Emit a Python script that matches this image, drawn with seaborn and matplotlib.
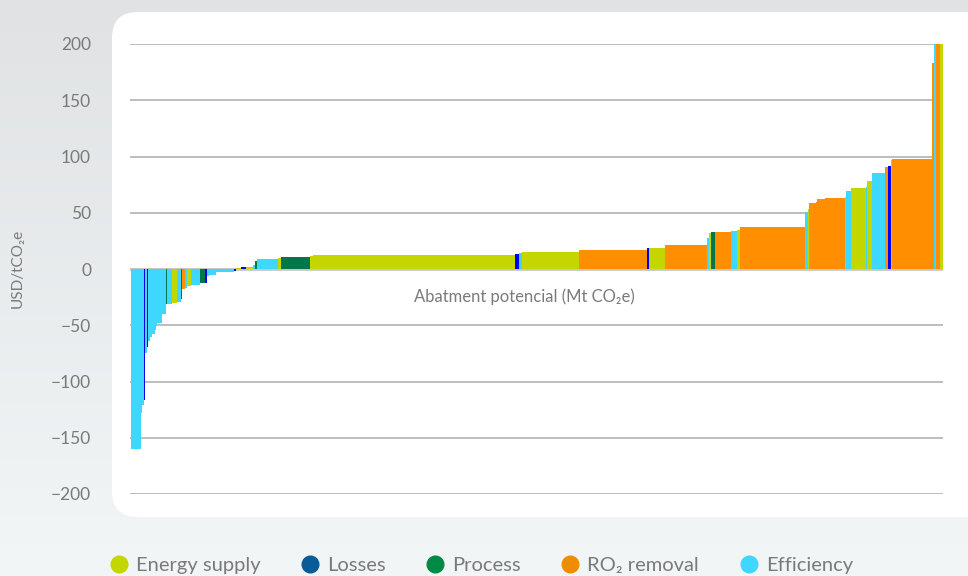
import numpy as np
import pandas as pd
import matplotlib
matplotlib.use("Agg")
import matplotlib.pyplot as plt
import seaborn as sns
from matplotlib.patches import FancyBboxPatch
from matplotlib.lines import Line2D

# ---------------- data ----------------
categories = ["Energy supply", "Losses", "Process", "RO\u2082 removal", "Efficiency"]

# width of each measure (abatement potential, relative units)
widths = [10, 1, 2, 0.7, 2.3, 1, 2, 2, 3, 1, 1, 5, 4, 1, 5, 4.3, 4.7, 1, 2.7, 2.3,
          3.7, 9.3, 5, 1.7, 1.6, 7.4, 17.6, 2.4, 5.3, 4.7, 7.3, 2, 2, 21, 2.7, 29.3,
          3, 202, 4, 3.3, 56.7, 68, 2, 16, 42, 2, 2, 4, 16, 6, 3, 65, 3, 1, 7, 1,
          8, 20, 1, 5, 15, 1, 5, 13, 3, 3, 1, 40, 2, 2, 4, 3]
# cost of each measure (USD/tCO2e)
costs = [-160, -128, -121, -116, -75, -69, -64, -60, -58, -54, -51, -48, -40, -31, -31,
         -30, -29, -27, -18, -17, -15, -14, -12, -12, -6, -5, -3, -2, 0.6, 1.5, 1.5,
         3.5, 7, 9, 10, 10.5, 11.5, 12.5, 13.5, 14.5, 15, 16.5, 19, 19, 21, 28, 32,
         33, 33, 34, 35, 37, 51, 53, 59, 60, 62, 63, 64, 69, 72, 73, 78, 85, 91, 92,
         97, 98, 183, 230, 260, 300]
# category of each measure
kinds = ["Efficiency", "Efficiency", "Efficiency", "Losses", "Efficiency", "Losses",
         "Efficiency", "Efficiency", "Efficiency", "Efficiency", "Efficiency",
         "Efficiency", "Efficiency", "Process", "Efficiency", "Energy supply",
         "Efficiency", "Process", "RO\u2082 removal", "Efficiency", "Energy supply",
         "Efficiency", "Process", "Losses", "Efficiency", "Efficiency", "Efficiency",
         "Losses", "Energy supply", "Losses", "Energy supply", "Efficiency", "Process",
         "Efficiency", "Energy supply", "Process", "Energy supply", "Energy supply",
         "Losses", "Efficiency", "Energy supply", "RO\u2082 removal", "Losses",
         "Energy supply", "RO\u2082 removal", "Efficiency", "Energy supply", "Process",
         "RO\u2082 removal", "Efficiency", "Energy supply", "RO\u2082 removal",
         "Efficiency", "Energy supply", "RO\u2082 removal", "RO\u2082 removal",
         "RO\u2082 removal", "RO\u2082 removal", "Energy supply", "Efficiency",
         "Energy supply", "Efficiency", "Energy supply", "Efficiency", "RO\u2082 removal",
         "Losses", "Energy supply", "RO\u2082 removal", "RO\u2082 removal", "Efficiency",
         "RO\u2082 removal", "Energy supply"]

y_ticks = [-200, -150, -100, -50, 0, 50, 100, 150, 200]

# ---------------- styling ----------------
bar_colors = {"Energy supply": "#c4d600", "Losses": "#0000f0", "Process": "#00774a",
              "RO\u2082 removal": "#ff8f00", "Efficiency": "#3ed8ff"}
legend_colors = {"Energy supply": "#c4d600", "Losses": "#0a5c96", "Process": "#008a44",
                 "RO\u2082 removal": "#f08c00", "Efficiency": "#3ed8ff"}
text_color = "#7a7a7a"

sns.set_theme(style="white")
plt.rcParams["font.family"] = ["Lato", "DejaVu Sans"]

W, H = 968, 576
fig = plt.figure(figsize=(W / 100, H / 100), dpi=100)

# background gradient + white rounded panel
bg = fig.add_axes([0, 0, 1, 1], zorder=-10)
grad = np.linspace(0, 1, 256).reshape(-1, 1)
cmap = matplotlib.colors.LinearSegmentedColormap.from_list("g", ["#e0e2e4", "#f2f6f7"])
bg.imshow(grad, aspect="auto", cmap=cmap, extent=[0, W, H, 0])
bg.set_xlim(0, W)
bg.set_ylim(H, 0)
bg.add_patch(FancyBboxPatch((112, 12), 900, 505, boxstyle="round,pad=0,rounding_size=26",
                            facecolor="white", edgecolor="none"))
bg.axis("off")

# main axes
ax = fig.add_axes([130 / W, 1 - 494 / H, (943 - 130) / W, (494 - 44) / H])
ax.set_facecolor("none")

df = pd.DataFrame({"width": widths, "cost": costs, "kind": kinds})
df["left"] = df["width"].cumsum() - df["width"]

ax.bar(df["left"], df["cost"], width=df["width"], align="edge",
       color=[bar_colors[k] for k in df["kind"]], linewidth=0, zorder=3)

total = df["width"].sum()
ax.set_xlim(-1.5, total + 0.5)
ax.set_ylim(-200, 200)
ax.set_yticks(y_ticks)
ax.set_yticklabels([str(t).replace("-", "\u2212") for t in y_ticks])
ax.set_xticks([])
ax.grid(axis="y", color="#b8b8b8", linewidth=1.3, zorder=0)
ax.grid(axis="x", visible=False)
for s in ax.spines.values():
    s.set_visible(False)
ax.tick_params(axis="y", length=0, pad=28, labelsize=12.5, labelcolor=text_color)
ax.axhline(0, color="#c8c8c8", linewidth=2, zorder=2)

ax.text(0.485, 1 - (297 - 44) / (494 - 44),
        "Abatment potencial (Mt CO\u2082e)", transform=ax.transAxes,
        ha="center", va="center", fontsize=12, color=text_color)

fig.text(18 / W, 1 - 268 / H, "USD/tCO\u2082e", rotation=90, ha="center", va="center",
         fontsize=11, color=text_color)

handles = [Line2D([], [], marker="o", linestyle="none", markersize=13,
                  markerfacecolor=legend_colors[c], markeredgecolor="none", label=c)
           for c in categories]
leg = fig.legend(handles=handles, loc="center left", bbox_to_anchor=(111 / W, 1 - 565 / H),
                 ncol=5, frameon=False, fontsize=14.5, handlelength=0.8, handletextpad=0.45,
                 columnspacing=2.05, borderpad=0, borderaxespad=0)
for t in leg.get_texts():
    t.set_color(text_color)

fig.savefig("out.png", dpi=100)
